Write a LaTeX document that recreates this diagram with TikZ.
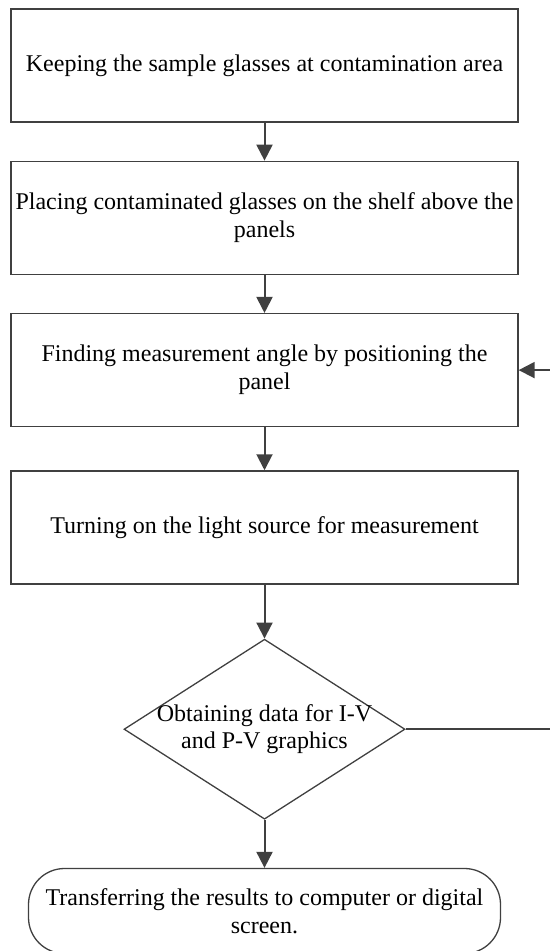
\documentclass[tikz,border=0pt]{standalone}
\usepackage{fontspec}
\setmainfont{Liberation Serif}
\usepackage{xcolor}
\usepackage{tikz}
\usetikzlibrary{positioning,calc,shapes.geometric,arrows.meta}

\definecolor{linegray}{RGB}{64,64,64}

\begin{document}
\begin{tikzpicture}[
	x=0.5pt, y=-0.5pt,
	font=\fontsize{12pt}{14pt}\selectfont,
	% Style for the process boxes
	procbox/.style={rectangle, draw=linegray, line width=0.65pt,
		minimum width=253.5pt, minimum height=56.5pt, inner sep=0pt, align=center},
	% Style for the decision diamond
	decbox/.style={diamond, draw=linegray, line width=0.65pt,
		minimum width=140.5pt, minimum height=90pt, inner sep=0pt},
	% Style for the end terminal
	termbox/.style={rectangle, rounded corners=18pt, draw=linegray, line width=0.65pt,
		minimum width=236pt, minimum height=42.5pt, inner sep=0pt, align=center},
	% Style for the flow arrows
	flow_arrow/.style={
		-{Triangle[length=8pt, width=8pt]},
		linegray, line width=1pt
	}
	]
	% --- PAGE FRAME ---
	\clip (0,0) rectangle (550,951);
	
	% --- PROCESS STEPS ---
	\node[procbox] (keep) at (264.5,65.5) {Keeping the sample glasses at contamination area};
	\node[procbox, below=19pt of keep] (place) {Placing contaminated glasses on the shelf above the\\panels};
	\node[procbox, below=19pt of place] (find) {Finding measurement angle by positioning the\\panel};
	\node[procbox, below=21.5pt of find] (light) {Turning on the light source for measurement};
	
	% --- DECISION ---
	\node[decbox, below=27pt of light,
		label={[align=center, font=\fontsize{12pt}{13.5pt}\selectfont]center:Obtaining data for I-V\\and P-V graphics}] (obtain) {};
	
	% --- END ---
	\node[termbox, below=24pt of obtain] (transfer) {Transferring the results to computer or digital\\screen.};
	
	% --- FLOW ARROWS ---
	\draw[flow_arrow] (keep.south) -- (place.north);
	\draw[flow_arrow] (place.south) -- (find.north);
	\draw[flow_arrow] (find.south) -- (light.north);
	\draw[flow_arrow] (light.south) -- (obtain.north);
	\draw[flow_arrow] (obtain.south) -- (transfer.north);
	
	% Loop back: from the diamond to the measurement angle step
	\coordinate (back) at ($(obtain.east)+(160,0)$);
	\draw[flow_arrow] (obtain.east) -- (back) |- (find.east);
	
\end{tikzpicture}
\end{document}
